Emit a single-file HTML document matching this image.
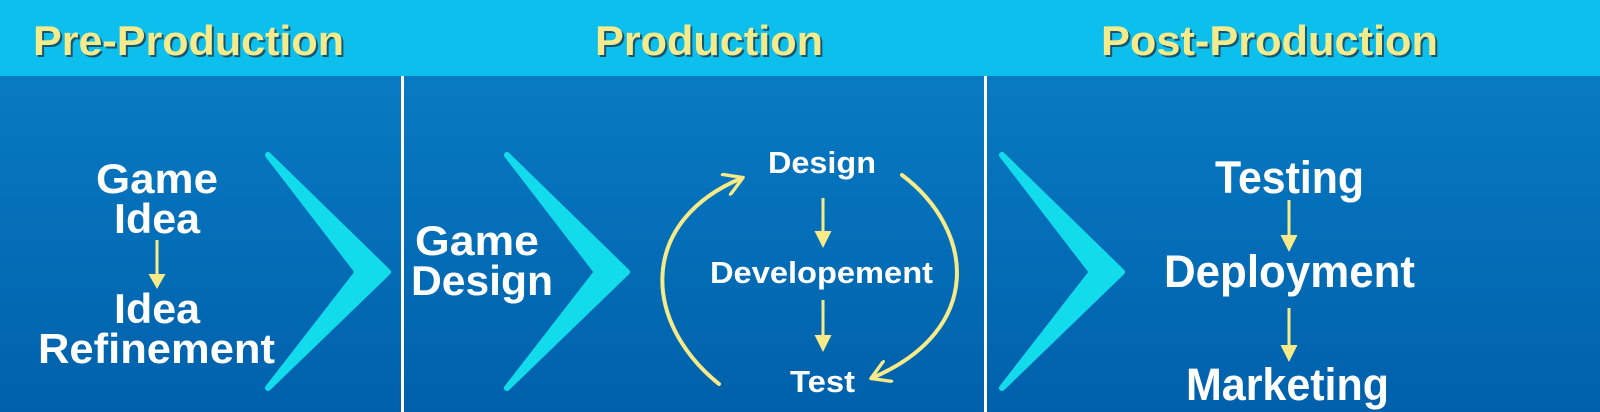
<!DOCTYPE html>
<html><head><meta charset="utf-8"><style>
html,body{margin:0;padding:0;width:1600px;height:412px;overflow:hidden;}
svg{display:block}
text{font-family:"Liberation Sans",Arial,sans-serif;font-weight:bold;}
</style></head><body>
<svg width="1600" height="412" viewBox="0 0 1600 412" xmlns="http://www.w3.org/2000/svg">
<defs>
<linearGradient id="bg" x1="0" y1="0" x2="0" y2="1">
<stop offset="0" stop-color="#0a80c8"/><stop offset="1" stop-color="#0060ab"/>
</linearGradient>
<marker id="ah" viewBox="0 0 10 10" refX="8" refY="5" markerWidth="6" markerHeight="6" orient="auto-start-reverse">
<path d="M1,0.5 L8.5,5 L1,9.5" fill="none" stroke="#f6eb88" stroke-width="1.4" stroke-linecap="round" stroke-linejoin="round"/>
</marker>
</defs>
<rect x="0" y="0" width="1600" height="412" fill="url(#bg)"/>
<rect x="0" y="0" width="1600" height="76" fill="#0dbfec"/>
<rect x="401" y="76" width="3" height="336" fill="#ffffff"/>
<rect x="984" y="76" width="3" height="336" fill="#ffffff"/>

<g fill="#1b3a50" opacity="0.8">
<text x="35" y="57" font-size="42" textLength="311" lengthAdjust="spacingAndGlyphs">Pre-Production</text>
<text x="597" y="57" font-size="42" textLength="228" lengthAdjust="spacingAndGlyphs">Production</text>
<text x="1103" y="57" font-size="42" textLength="337" lengthAdjust="spacingAndGlyphs">Post-Production</text>
</g>
<g fill="#f4ec8c">
<text x="33" y="55" font-size="42" textLength="311" lengthAdjust="spacingAndGlyphs">Pre-Production</text>
<text x="595" y="55" font-size="42" textLength="228" lengthAdjust="spacingAndGlyphs">Production</text>
<text x="1101" y="55" font-size="42" textLength="337" lengthAdjust="spacingAndGlyphs">Post-Production</text>
</g>

<g fill="#12dcec" stroke="#12dcec" stroke-width="6" stroke-linejoin="round">
<polygon points="268,155 388,272 268,388 358,272"/>
<polygon points="507,155 627,272 507,388 597,272"/>
<polygon points="1002,155 1122,272 1002,388 1092,272"/>
</g>

<g fill="#ffffff">
<text x="96" y="193" font-size="42" textLength="122" lengthAdjust="spacingAndGlyphs">Game</text>
<text x="114" y="233" font-size="42" textLength="86" lengthAdjust="spacingAndGlyphs">Idea</text>
<text x="114" y="323" font-size="42" textLength="86" lengthAdjust="spacingAndGlyphs">Idea</text>
<text x="38" y="363" font-size="42" textLength="237" lengthAdjust="spacingAndGlyphs">Refinement</text>
<text x="415" y="255" font-size="42" textLength="124" lengthAdjust="spacingAndGlyphs">Game</text>
<text x="411" y="295" font-size="42" textLength="142" lengthAdjust="spacingAndGlyphs">Design</text>
<text x="768" y="173" font-size="31" textLength="108" lengthAdjust="spacingAndGlyphs">Design</text>
<text x="710" y="283" font-size="31" textLength="223" lengthAdjust="spacingAndGlyphs">Developement</text>
<text x="790" y="392" font-size="31" textLength="65" lengthAdjust="spacingAndGlyphs">Test</text>
<text x="1215" y="193" font-size="45" textLength="149" lengthAdjust="spacingAndGlyphs">Testing</text>
<text x="1164" y="287" font-size="45" textLength="251" lengthAdjust="spacingAndGlyphs">Deployment</text>
<text x="1186" y="400" font-size="45" textLength="203" lengthAdjust="spacingAndGlyphs">Marketing</text>
</g>

<g fill="#f6eb88">
<path d="M155.5,240 h3 v34 h7 l-8.5,15 l-8.5,-15 h7 z"/>
<path d="M821.5,198 h3 v33 h7 l-8.5,17 l-8.5,-17 h7 z"/>
<path d="M821.5,300 h3 v35 h7 l-8.5,17 l-8.5,-17 h7 z"/>
<path d="M1287.5,200 h3 v35 h7 l-8.5,17 l-8.5,-17 h7 z"/>
<path d="M1287.5,308 h3 v37 h7 l-8.5,17 l-8.5,-17 h7 z"/>
</g>

<g fill="none" stroke="#f6eb88" stroke-width="4" stroke-linecap="round">
<path d="M719,384 C640,320 640,220 742,178" marker-end="url(#ah)"/>
<path d="M902,175 C975,230 985,330 872,378" marker-end="url(#ah)"/>
</g>
</svg>
</body></html>
